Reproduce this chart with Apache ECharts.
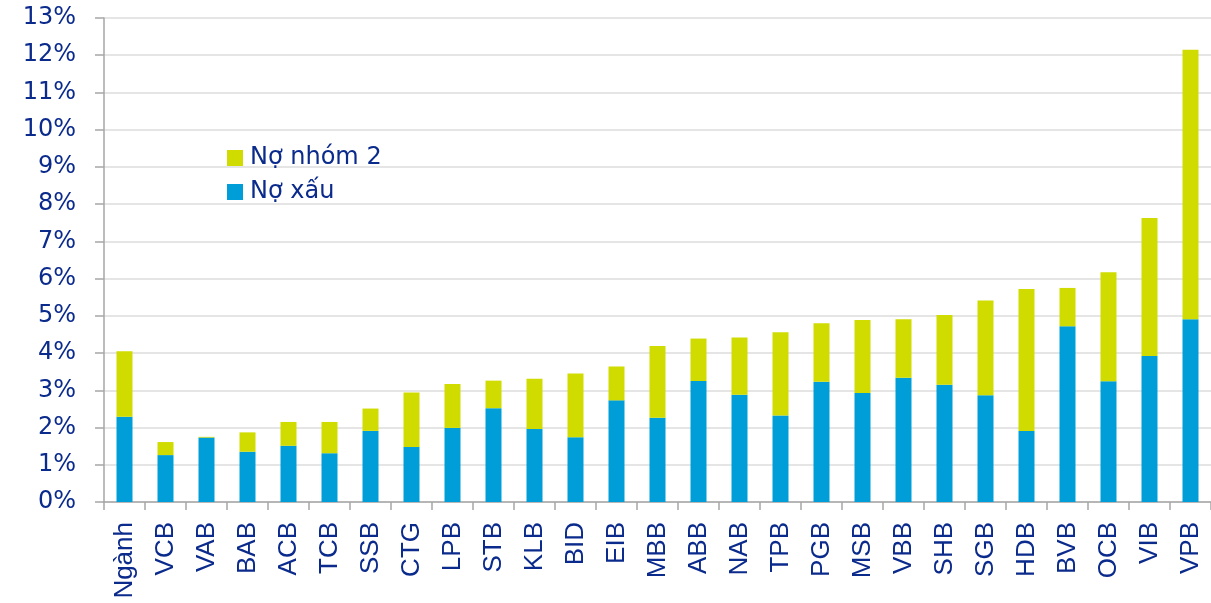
<!DOCTYPE html>
<html>
<head>
<meta charset="utf-8">
<script src="https://cdn.jsdelivr.net/npm/echarts@6/dist/echarts.min.js"></script>
<style>
  html, body { margin: 0; padding: 0; background: #fff; }
  #chart { width: 1211px; height: 603px; }
</style>
</head>
<body>
<div id="chart"></div>
<script>
// Ngân hàng (trục X)
const nganHang = ["Ngành", "VCB", "VAB", "BAB", "ACB", "TCB", "SSB", "CTG", "LPB", "STB",
  "KLB", "BID", "EIB", "MBB", "ABB", "NAB", "TPB", "PGB", "MSB", "VBB",
  "SHB", "SGB", "HDB", "BVB", "OCB", "VIB", "VPB"];

// Nợ xấu (%)
const noXau = [2.29, 1.26, 1.73, 1.35, 1.51, 1.31, 1.91, 1.48, 1.99, 2.52,
  1.96, 1.74, 2.73, 2.26, 3.25, 2.88, 2.32, 3.23, 2.93, 3.34,
  3.15, 2.87, 1.91, 4.72, 3.24, 3.92, 4.91];

// Nợ nhóm 2 (%)
const noNhom2 = [1.76, 0.35, 0.02, 0.52, 0.64, 0.84, 0.60, 1.46, 1.18, 0.74,
  1.35, 1.71, 0.91, 1.93, 1.14, 1.54, 2.24, 1.57, 1.96, 1.57,
  1.87, 2.54, 3.81, 1.03, 2.93, 3.71, 7.24];

const xanhLa = "#D0DB00";
const xanhDuong = "#009ED8";
const chuXanh = "#0A2A8C";
const font = "'DejaVu Sans', Verdana, sans-serif";
const fontTrucX = "'Liberation Sans', Arial, sans-serif";

const chart = echarts.init(document.getElementById("chart"));
chart.setOption({
  animation: false,
  backgroundColor: "#fff",
  textStyle: { fontFamily: font },
  legend: {
    orient: "vertical",
    left: 222,
    top: 141,
    itemWidth: 16,
    itemHeight: 16,
    itemGap: 10,
    icon: "rect",
    data: ["Nợ nhóm 2", "Nợ xấu"],
    textStyle: { color: chuXanh, fontSize: 24, lineHeight: 24, fontFamily: font, padding: [0, 0, 0, 2] }
  },
  grid: { left: 104, right: -3, top: 18, bottom: 101, containLabel: false },
  xAxis: {
    type: "category",
    data: nganHang,
    axisLine: { lineStyle: { color: "#a6a6a6", width: 1.5 } },
    axisTick: { show: true, length: 8, lineStyle: { color: "#a6a6a6", width: 1.5 } },
    axisLabel: { rotate: 90, color: chuXanh, fontSize: 26, fontFamily: fontTrucX, margin: 20, interval: 0 }
  },
  yAxis: {
    type: "value",
    min: 0,
    max: 13,
    interval: 1,
    axisLine: { show: true, lineStyle: { color: "#a6a6a6", width: 1.5 } },
    axisTick: { show: true, length: 9, lineStyle: { color: "#a6a6a6", width: 1.5 } },
    axisLabel: { color: chuXanh, fontSize: 24, fontFamily: font, margin: 28, formatter: v => v + "%" },
    splitLine: { lineStyle: { color: "#dcdcdc", width: 1.5 } }
  },
  series: [
    {
      name: "Nợ xấu",
      type: "bar",
      stack: "tong",
      barWidth: 16,
      data: noXau,
      itemStyle: { color: xanhDuong }
    },
    {
      name: "Nợ nhóm 2",
      type: "bar",
      stack: "tong",
      barWidth: 16,
      data: noNhom2,
      itemStyle: { color: xanhLa }
    }
  ]
});
</script>
</body>
</html>
